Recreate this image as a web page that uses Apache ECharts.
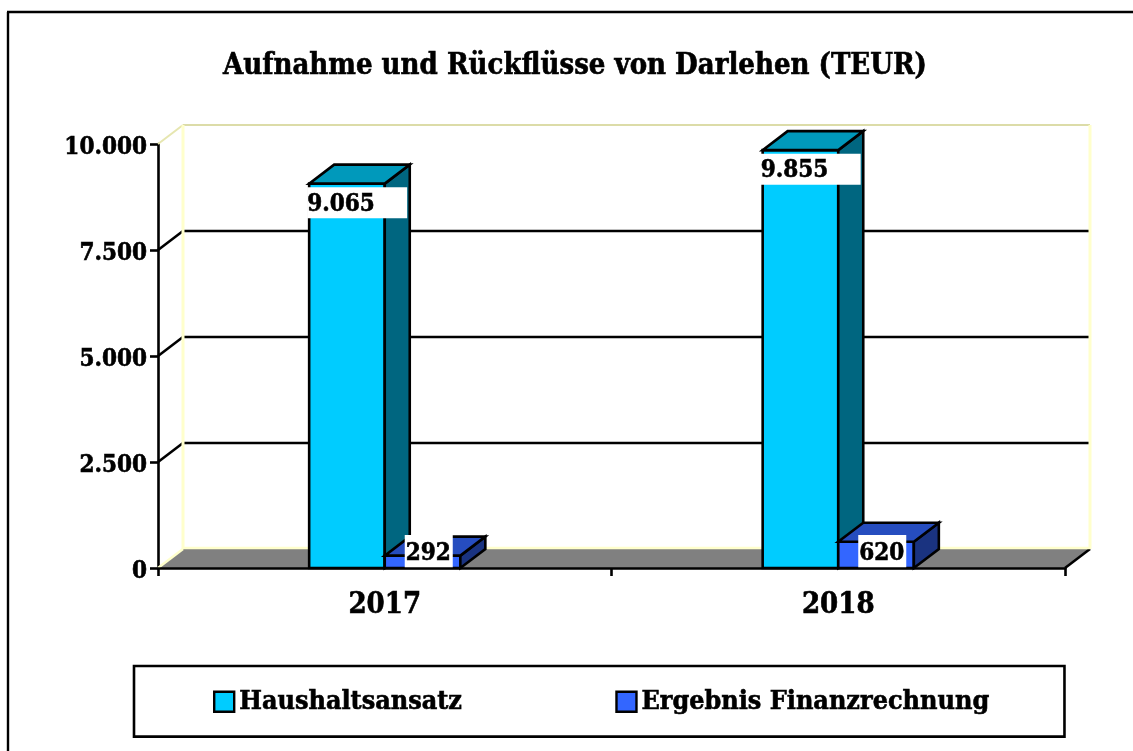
<!DOCTYPE html>
<html><head><meta charset="utf-8">
<style>html,body{margin:0;padding:0;background:#fff}#c{width:1133px;height:751px}</style>
<script src="https://cdn.jsdelivr.net/npm/echarts@6/dist/echarts.min.js"></script>
</head><body><div id="c"></div>
<script>
const categories = ['2017', '2018'];
const haushaltsansatz = [9065, 9855];
const ergebnis = [292, 620];
const haushaltsLabels = ['9.065', '9.855'];
const ergebnisLabels = ['292', '620'];
const yTicks = [0, 2500, 5000, 7500, 10000];
const yTickLabels = ['0', '2.500', '5.000', '7.500', '10.000'];

const FONT = '"DejaVu Serif Condensed","DejaVu Serif",serif';
const DX = 25, DY = -19, LW = 2.6;
const HEAVY = {textBorderColor:'#000', textBorderWidth:0.6};

function poly(points, fill) {
  return {type:'polygon', shape:{points}, style:{fill, stroke:'#000', lineWidth:LW, lineJoin:'miter'}};
}
function barRenderer(seriesIdx, front, top, side, labels) {
  return function (params, api) {
    const cat = api.value(0), val = api.value(1);
    const band = api.size([1, 0])[0];
    const w = band / 6;
    const base = api.coord([cat, 0]);
    const head = api.coord([cat, val]);
    const x0 = base[0] - w + seriesIdx * w, x1 = x0 + w;
    const yb = base[1], yt = head[1];
    const children = [
      poly([[x0,yb],[x1,yb],[x1,yt],[x0,yt]], front),
      poly([[x1,yb],[x1+DX,yb+DY],[x1+DX,yt+DY],[x1,yt]], side),
      poly([[x0,yt],[x1,yt],[x1+DX,yt+DY],[x0+DX,yt+DY]], top)
    ];
    const text = labels[params.dataIndex];
    let bx, by, bw, bh;
    if (seriesIdx === 0) { bx = x0 - 2; by = yt + 3.5; bw = 100; bh = 31; }
    else { bx = x0 + 20; by = yb - 33; bw = 48; bh = 33; }
    children.push({type:'rect', shape:{x:bx, y:by, width:bw, height:bh}, style:{fill:'#fff'}});
    children.push({type:'text', style:{x:bx + (seriesIdx ? 1 : 0), y:by + bh/2 + 2, text, fill:'#000', align:'left', verticalAlign:'middle',
      font:'bold 24px ' + FONT, stroke:'#000', lineWidth:0.6}});
    return {type:'group', children};
  };
}
function wallRenderer(params, api) {
  const v = api.value(0);
  const c = api.coord([0, v]);
  const band = api.size([1, 0])[0];
  const left = c[0] - band / 2, right = left + 2 * band, y = c[1];
  const children = [];
  if (v === yTicks[0]) {
    children.push({type:'polygon', shape:{points:[[left,y],[right,y],[right+DX,y+DY],[left+DX,y+DY]]},
      style:{fill:'#808080'}});
    children.push({type:'line', shape:{x1:left,y1:y,x2:left+DX,y2:y+DY}, style:{stroke:'#ffffcc',lineWidth:2.5}});
    children.push({type:'line', shape:{x1:right,y1:y,x2:right+DX,y2:y+DY}, style:{stroke:'#000',lineWidth:LW}});
    children.push({type:'line', shape:{x1:left+DX,y1:y+DY-1,x2:right+DX,y2:y+DY-1}, style:{stroke:'#ffffcc',lineWidth:2.5}});
  } else if (v === yTicks[yTicks.length - 1]) {
    children.push({type:'line', shape:{x1:left,y1:y,x2:left+DX,y2:y+DY}, style:{stroke:'#e6e6b0',lineWidth:2}});
    children.push({type:'line', shape:{x1:left+DX,y1:y+DY,x2:right+DX,y2:y+DY}, style:{stroke:'#dcdca8',lineWidth:2}});
    const b = api.coord([0, yTicks[0]]);
    children.push({type:'line', shape:{x1:left+DX,y1:y+DY,x2:left+DX,y2:b[1]+DY}, style:{stroke:'#ffffcc',lineWidth:3}});
    children.push({type:'line', shape:{x1:right+DX,y1:y+DY,x2:right+DX,y2:b[1]+DY}, style:{stroke:'#ffffcc',lineWidth:3}});
  } else {
    children.push({type:'line', shape:{x1:left+DX,y1:y+DY,x2:right+DX,y2:y+DY}, style:{stroke:'#000',lineWidth:LW}});
    children.push({type:'line', shape:{x1:left,y1:y,x2:left+DX,y2:y+DY}, style:{stroke:'#000',lineWidth:LW}});
  }
  return {type:'group', children};
}

const chart = echarts.init(document.getElementById('c'), null, {renderer:'canvas'});
chart.setOption({
  animation:false,
  backgroundColor:'#fff',
  title:{text:'Aufnahme und Rückflüsse von Darlehen (TEUR)', left:570, top:47, textAlign:'center',
    textStyle:{fontFamily:FONT, fontWeight:'bold', fontSize:29, color:'#000', ...HEAVY}},
  grid:{left:158, right:68, top:144, bottom:183},
  legend:{
    show:true, left:134, top:666, orient:'horizontal',
    data:['Haushaltsansatz','Ergebnis Finanzrechnung'],
    borderColor:'#000', borderWidth:2.6, backgroundColor:'#fff', borderRadius:0,
    padding:[22,75,21,79], itemGap:153, itemWidth:20, itemHeight:20, icon:'rect', selectedMode:false,
    itemStyle:{borderColor:'#000', borderWidth:2.4},
    textStyle:{fontFamily:FONT, fontWeight:'bold', fontSize:26.7, color:'#000', padding:[2,0,0,0], ...HEAVY}
  },
  xAxis:{type:'category', data:categories, boundaryGap:true,
    axisLine:{lineStyle:{color:'#000',width:LW}},
    axisTick:{show:true,length:8,lineStyle:{color:'#000',width:LW}},
    axisLabel:{fontFamily:FONT,fontWeight:'bold',fontSize:29,color:'#000',margin:23,...HEAVY},
    z:5},
  yAxis:{type:'value', min:0, max:10000, interval:2500,
    axisLine:{show:true,lineStyle:{color:'#000',width:LW}},
    axisTick:{show:true,length:8,lineStyle:{color:'#000',width:LW}},
    splitLine:{show:false},
    axisLabel:{margin:11,
      rich:{t:{fontFamily:FONT,fontWeight:'bold',fontSize:24,color:'#000',lineHeight:32,verticalAlign:'bottom',...HEAVY}},
      formatter:(v)=>'{t|'+yTickLabels[yTicks.indexOf(v)]+'}'}},
  graphic:[
    {type:'line', silent:true, shape:{x1:7,y1:12,x2:1133,y2:12}, style:{stroke:'#000',lineWidth:2.4}},
    {type:'line', silent:true, shape:{x1:8,y1:12,x2:8,y2:751}, style:{stroke:'#000',lineWidth:2.4}}
  ],
  series:[
    {name:'wand', type:'custom', coordinateSystem:'cartesian2d', renderItem:wallRenderer, silent:true, z:1,
      encode:{y:0}, data:yTicks.map(v=>[v]), clip:false},
    {name:'Haushaltsansatz', type:'custom', coordinateSystem:'cartesian2d', z:2, clip:false,
      renderItem:barRenderer(0,'#00ccff','#0099bb','#006680',haushaltsLabels),
      itemStyle:{color:'#00ccff',borderColor:'#000',borderWidth:2},
      encode:{x:0,y:1}, data:haushaltsansatz.map((v,i)=>[i,v])},
    {name:'Ergebnis Finanzrechnung', type:'custom', coordinateSystem:'cartesian2d', z:3, clip:false,
      renderItem:barRenderer(1,'#3366ff','#264dbf','#1a3380',ergebnisLabels),
      itemStyle:{color:'#3366ff',borderColor:'#000',borderWidth:2},
      encode:{x:0,y:1}, data:ergebnis.map((v,i)=>[i,v])}
  ]
});
</script></body></html>
